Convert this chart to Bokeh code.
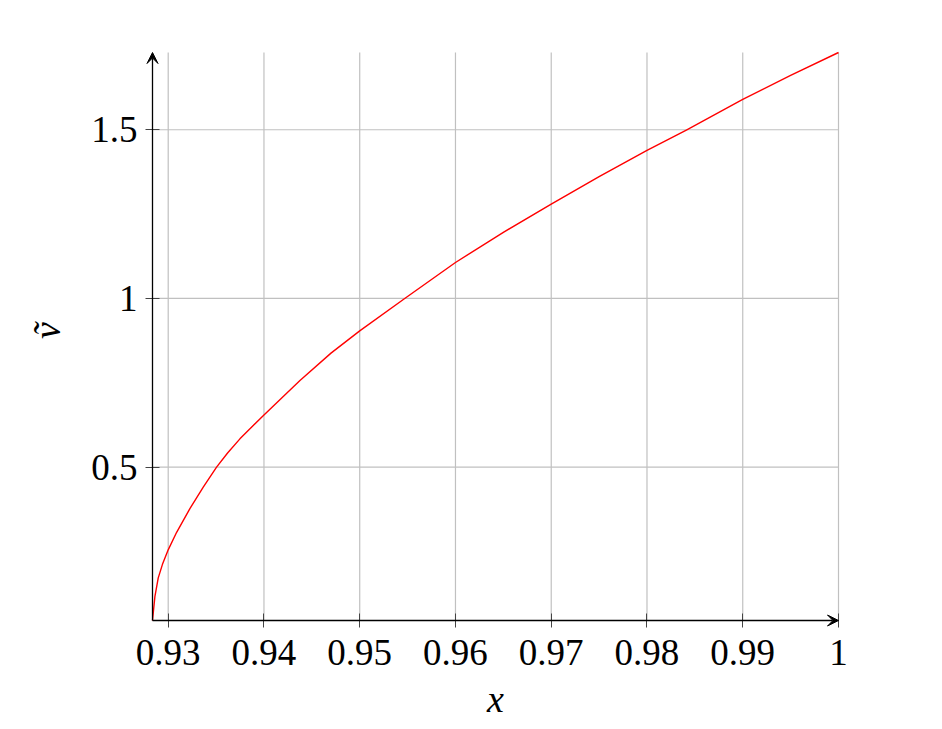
import math
from bokeh.plotting import figure
from bokeh.models import Arrow, VeeHead, FixedTicker, Range1d, Label
from bokeh.embed import file_html
from bokeh.resources import INLINE

# data
x_vals = [0.92836, 0.92861, 0.92896, 0.92940, 0.9300, 0.93088, 0.93228, 0.93366,
          0.93505, 0.9362, 0.93749, 0.9400, 0.94376, 0.9470, 0.9500, 0.9547,
          0.9600, 0.9650, 0.9700, 0.9750, 0.9800, 0.98411, 0.9900, 0.9950, 1.0]
v_vals = [0.0456, 0.1165, 0.172, 0.212, 0.255, 0.307, 0.378, 0.441,
          0.500, 0.542, 0.584, 0.655, 0.757, 0.838, 0.904, 1.000,
          1.1067, 1.196, 1.2795, 1.361, 1.4387, 1.499, 1.5898, 1.661, 1.729]

x_ticks = [0.93, 0.94, 0.95, 0.96, 0.97, 0.98, 0.99, 1.0]
x_tick_labels = ["0.93", "0.94", "0.95", "0.96", "0.97", "0.98", "0.99", "1"]
y_ticks = [0.5, 1.0, 1.5]
y_tick_labels = ["0.5", "1", "1.5"]
x_title = "x"
y_title = "ṽ"

x_min, x_max = 0.92836, 1.0
y_min, y_max = 0.0456, 1.729

# layout: the whole figure is the plotting frame; the data box sits inside it
W, H = 934, 721
BOX_L, BOX_R, BOX_T, BOX_B = 152, 838, 52, 620
sx = (BOX_R - BOX_L) / (x_max - x_min)
sy = (BOX_B - BOX_T) / (y_max - y_min)

p = figure(width=W, height=H, output_backend="svg", toolbar_location=None,
           x_range=Range1d(x_min - BOX_L / sx, x_max + (W - BOX_R) / sx),
           y_range=Range1d(y_min - (H - BOX_B) / sy, y_max + BOX_T / sy),
           min_border_left=0, min_border_right=0, min_border_top=0,
           min_border_bottom=0)
p.outline_line_color = None
p.background_fill_color = "white"
p.border_fill_color = "white"
p.xgrid.visible = False
p.ygrid.visible = False

FONT = "Liberation Serif"
for ax in (p.xaxis, p.yaxis):
    ax.axis_line_color = None
    ax.major_tick_line_color = "#444444"
    ax.major_tick_line_width = 1
    ax.major_tick_in = 7
    ax.major_tick_out = 7
    ax.minor_tick_line_color = None
    ax.major_label_text_font = FONT
    ax.major_label_text_font_size = "37px"
    ax.major_label_text_color = "black"

p.xaxis.fixed_location = y_min
p.yaxis.fixed_location = x_min
p.xaxis.ticker = FixedTicker(ticks=x_ticks)
p.xaxis.major_label_overrides = dict(zip(x_ticks, x_tick_labels))
p.yaxis.ticker = FixedTicker(ticks=y_ticks)
p.yaxis.major_label_overrides = dict(zip(y_ticks, y_tick_labels))
p.xaxis.major_label_standoff = 12
p.yaxis.major_label_standoff = 8

# axis titles, centred on the data box
p.add_layout(Label(x=(x_min + x_max) / 2, y=y_min, y_offset=-78, text=x_title,
                   text_font=FONT, text_font_size="38px", text_font_style="italic",
                   text_color="black", text_align="center", text_baseline="middle"))
p.add_layout(Label(x=x_min, y=(y_min + y_max) / 2, x_offset=-106, y_offset=6, text=y_title,
                   angle=math.pi / 2,
                   text_font=FONT, text_font_size="38px", text_font_style="italic",
                   text_color="black", text_align="center", text_baseline="middle"))

# grid lines limited to the data box
p.segment(x0=x_ticks, y0=[y_min] * len(x_ticks), x1=x_ticks, y1=[y_max] * len(x_ticks),
          line_color="#c0c0c0", line_width=1.2)
p.segment(x0=[x_min] * len(y_ticks), y0=y_ticks, x1=[x_max] * len(y_ticks), y1=y_ticks,
          line_color="#c0c0c0", line_width=1.2)

p.line(x_vals, v_vals, line_color="#ff0000", line_width=1.4, line_join="round")

p.add_layout(Arrow(x_start=x_min, y_start=y_min, x_end=x_max, y_end=y_min,
                   line_color="black", line_width=1.3,
                   end=VeeHead(size=11, fill_color="black", line_color="black", line_width=1)))
p.add_layout(Arrow(x_start=x_min, y_start=y_min, x_end=x_min, y_end=y_max,
                   line_color="black", line_width=1.3,
                   end=VeeHead(size=11, fill_color="black", line_color="black", line_width=1)))

open("out.html", "w").write(file_html(p, INLINE))
